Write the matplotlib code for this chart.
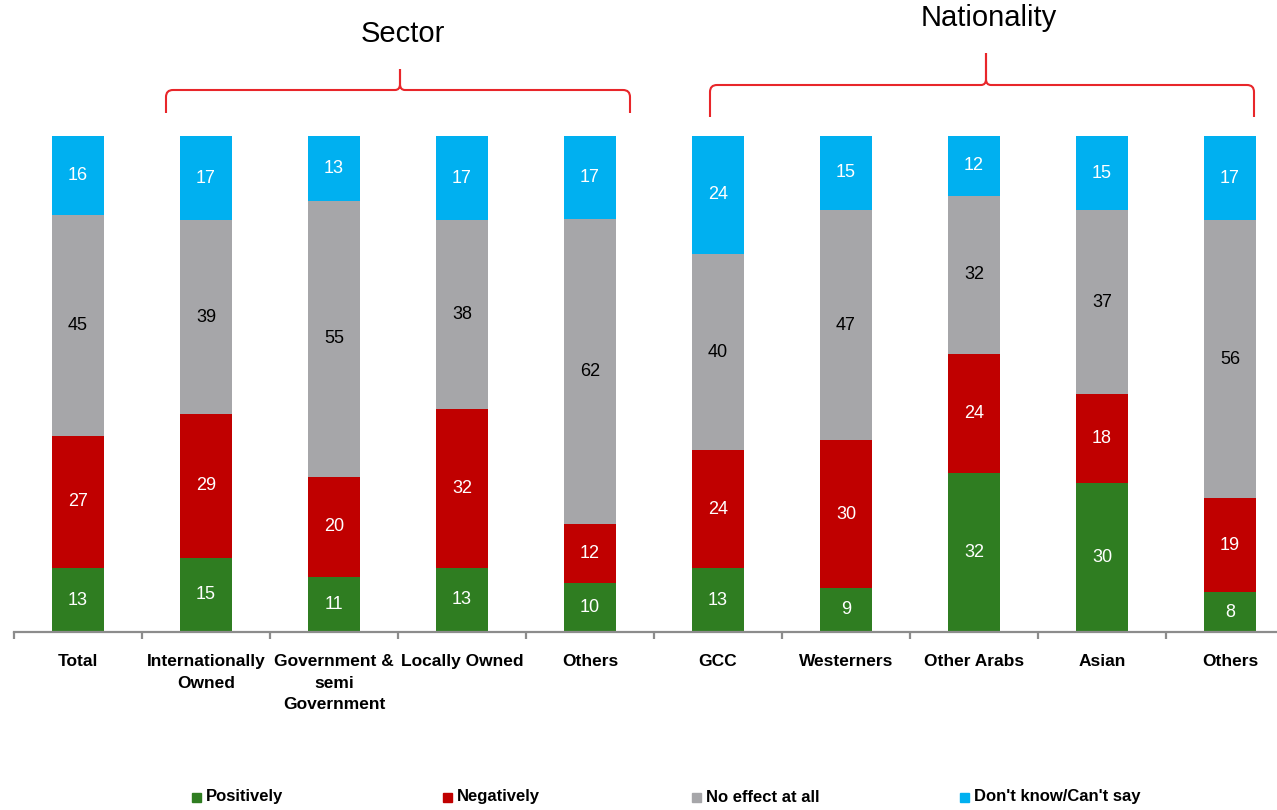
import numpy as np
import matplotlib
matplotlib.use("Agg")  # no display
import matplotlib.pyplot as plt
from matplotlib.path import Path
from matplotlib.patches import PathPatch, Rectangle

plt.rcParams['font.family'] = ['Liberation Sans', 'DejaVu Sans']

# categories along the x axis
categories = ["Total", "Internationally\nOwned", "Government &\nsemi\nGovernment",
              "Locally Owned", "Others", "GCC", "Westerners", "Other Arabs",
              "Asian", "Others"]

# answer shares (%)
positively = [13, 15, 11, 13, 10, 13, 9, 32, 30, 8]
negatively = [27, 29, 20, 32, 12, 24, 30, 24, 18, 19]
no_effect = [45, 39, 55, 38, 62, 40, 47, 32, 37, 56]
dont_know = [16, 17, 13, 17, 17, 24, 15, 12, 15, 17]

series_names = ["Positively", "Negatively", "No effect at all", "Don't know/Can't say"]
colors = ["#2F7D21", "#C00000", "#A6A6A9", "#00B0F0"]
text_colors = ["white", "white", "black", "white"]

series = np.array([positively, negatively, no_effect, dont_know], dtype=float)
# every bar is drawn to full height (100 %)
shares = series / series.sum(axis=0) * 100

W, H = 1277, 810
fig = plt.figure(figsize=(W / 100, H / 100), dpi=100)
ax = fig.add_axes([14 / W, (H - 632) / H, 1280 / W, 496 / H])

x = np.arange(len(categories))
bottom = np.zeros(len(categories))
for i in range(4):
    ax.bar(x, shares[i], 0.406, bottom=bottom, color=colors[i], zorder=2)
    for j in range(len(categories)):
        ax.text(x[j], bottom[j] + shares[i][j] / 2, "%d" % series[i][j],
                ha="center", va="center", fontsize=13, color=text_colors[i])
    bottom += shares[i]

ax.set_xlim(-0.5, len(categories) - 0.5)
ax.set_ylim(0, 100)
for s in ["top", "right", "left"]:
    ax.spines[s].set_visible(False)
ax.spines["bottom"].set_color("#8C8C8C")
ax.spines["bottom"].set_linewidth(1.6)
ax.set_yticks([])
ax.set_xticks(x)
ax.set_xticklabels(categories, fontsize=12.5, fontweight="bold", linespacing=1.55)
ax.tick_params(axis="x", which="major", length=0, pad=16)
ax.set_xticks(np.arange(-0.5, len(categories), 1), minor=True)
ax.tick_params(axis="x", which="minor", length=5, width=1.6, color="#8C8C8C")

# overlay in pixel coordinates for braces and legend
ov = fig.add_axes([0, 0, 1, 1], facecolor="none")
ov.set_xlim(0, W)
ov.set_ylim(H, 0)
ov.axis("off")


def brace(x0, x1, xm, y_line, y_peak, y_end):
    r = 7
    verts = [(x0, y_end), (x0, y_line + r), (x0, y_line), (x0 + r, y_line),
             (xm - 5, y_line), (xm, y_line), (xm, y_line - 6), (xm, y_peak),
             (xm, y_line - 6), (xm, y_line), (xm + 5, y_line),
             (x1 - r, y_line), (x1, y_line), (x1, y_line + r), (x1, y_end)]
    codes = [Path.MOVETO, Path.LINETO, Path.CURVE3, Path.CURVE3,
             Path.LINETO, Path.CURVE3, Path.CURVE3, Path.LINETO,
             Path.LINETO, Path.CURVE3, Path.CURVE3,
             Path.LINETO, Path.CURVE3, Path.CURVE3, Path.LINETO]
    ov.add_patch(PathPatch(Path(verts, codes), fill=False, edgecolor="#E8262A", lw=1.5))


brace(166, 630, 400, 90, 69, 113)
brace(710, 1254, 986, 85, 53, 117)
ov.text(403, 34, "Sector", fontsize=21, ha="center", va="center")
ov.text(989, 18, "Nationality", fontsize=21, ha="center", va="center")

# legend
leg_x = [192, 443, 692, 960]
for i in range(4):
    ov.add_patch(Rectangle((leg_x[i], 793), 9, 9, color=colors[i]))
    ov.text(leg_x[i] + 14, 797, series_names[i], fontsize=12, fontweight="bold",
            ha="left", va="center")

fig.savefig("out.png", dpi=100)
